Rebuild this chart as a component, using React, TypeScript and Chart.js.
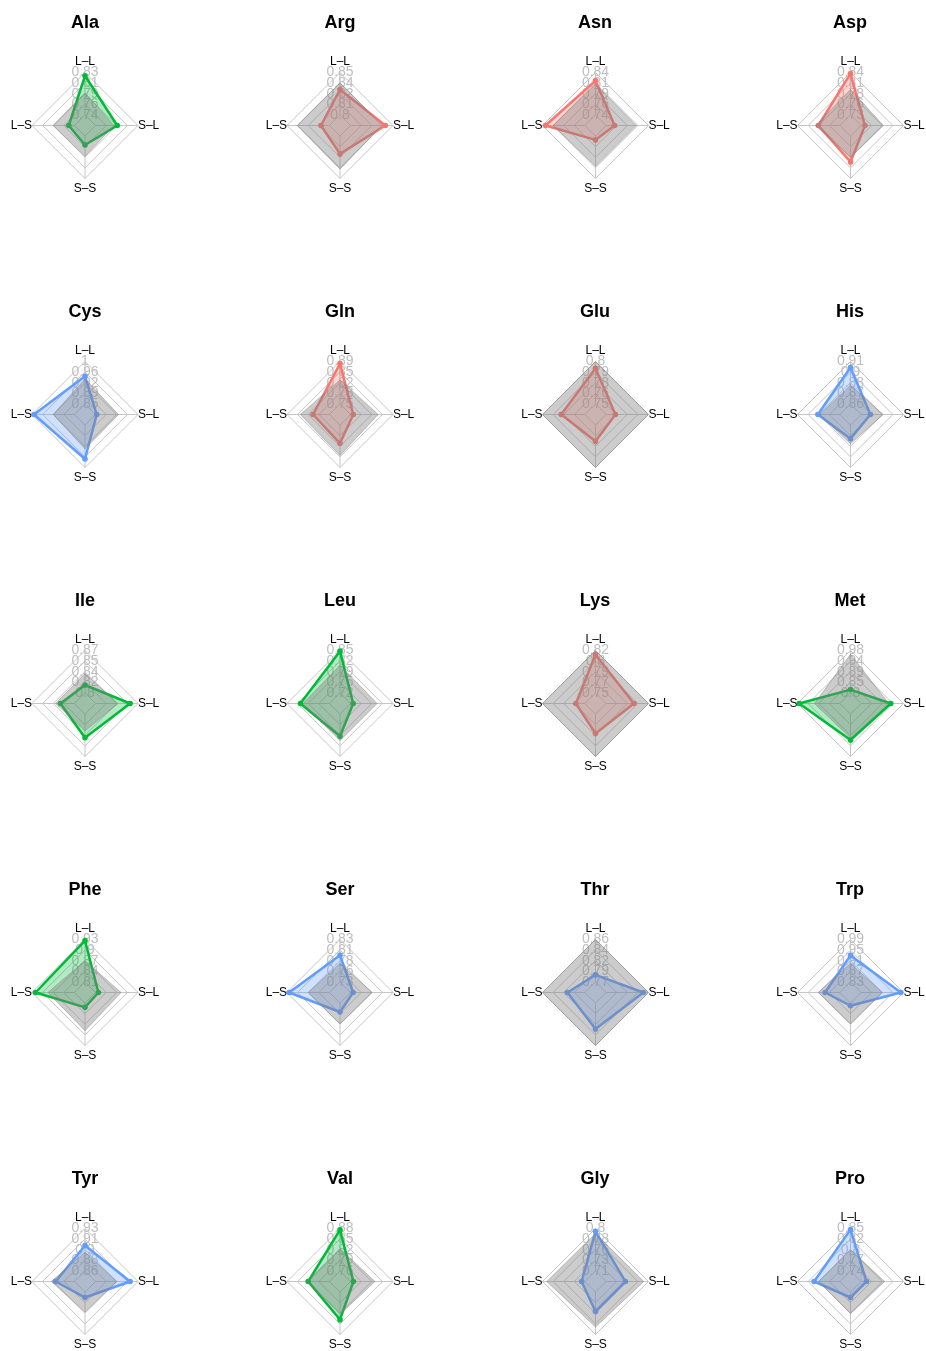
import React, { useEffect, useRef } from 'react';
import { Chart, registerables } from 'chart.js';

Chart.register(...registerables);

// ---------- data ----------
const AXIS_LABELS = ['L–L', 'S–L', 'S–S', 'L–S'];

const AMINO_ACIDS = [
  'Ala', 'Arg', 'Asn', 'Asp',
  'Cys', 'Gln', 'Glu', 'His',
  'Ile', 'Leu', 'Lys', 'Met',
  'Phe', 'Ser', 'Thr', 'Trp',
  'Tyr', 'Val', 'Gly', 'Pro',
];

const GROUPS = [
  'green', 'red', 'red', 'red',
  'blue', 'red', 'red', 'blue',
  'green', 'green', 'red', 'green',
  'green', 'blue', 'blue', 'blue',
  'blue', 'green', 'blue', 'blue',
];

// lowest / highest ring value of each panel
const RING_LOW = [
  0.74, 0.80, 0.74, 0.73,
  0.85, 0.75, 0.75, 0.86,
  0.80, 0.72, 0.75, 0.80,
  0.81, 0.73, 0.77, 0.83,
  0.86, 0.76, 0.71, 0.74,
];
const RING_HIGH = [
  0.83, 0.85, 0.84, 0.84,
  1.00, 0.89, 0.80, 0.91,
  0.87, 0.85, 0.82, 0.98,
  0.93, 0.83, 0.86, 0.99,
  0.93, 0.88, 0.80, 0.85,
];

const TICK_LABELS = [
  ['0.74', '0.76', '0.79', '0.81', '0.83'],
  ['0.8', '0.81', '0.82', '0.84', '0.85'],
  ['0.74', '0.76', '0.79', '0.81', '0.84'],
  ['0.73', '0.76', '0.78', '0.81', '0.84'],
  ['0.85', '0.89', '0.92', '0.96', '1'],
  ['0.75', '0.78', '0.82', '0.85', '0.89'],
  ['0.75', '0.76', '0.78', '0.79', '0.8'],
  ['0.86', '0.87', '0.88', '0.9', '0.91'],
  ['0.8', '0.82', '0.84', '0.85', '0.87'],
  ['0.72', '0.75', '0.79', '0.82', '0.85'],
  ['0.75', '0.77', '0.79', '0.8', '0.82'],
  ['0.8', '0.85', '0.89', '0.94', '0.98'],
  ['0.81', '0.84', '0.87', '0.9', '0.93'],
  ['0.73', '0.76', '0.78', '0.81', '0.83'],
  ['0.77', '0.79', '0.82', '0.84', '0.86'],
  ['0.83', '0.87', '0.91', '0.95', '0.99'],
  ['0.86', '0.88', '0.9', '0.91', '0.93'],
  ['0.76', '0.79', '0.82', '0.85', '0.88'],
  ['0.71', '0.73', '0.76', '0.78', '0.8'],
  ['0.74', '0.77', '0.8', '0.82', '0.85'],
];

// values per panel, order: L–L, S–L, S–S, L–S
const VALUES = [
  [0.823, 0.786, 0.759, 0.752],
  [0.830, 0.841, 0.821, 0.810],
  [0.821, 0.760, 0.749, 0.833],
  [0.837, 0.740, 0.797, 0.786],
  [0.948, 0.854, 0.970, 0.993],
  [0.883, 0.759, 0.810, 0.804],
  [0.792, 0.761, 0.769, 0.778],
  [0.903, 0.871, 0.876, 0.886],
  [0.813, 0.857, 0.839, 0.823],
  [0.848, 0.728, 0.788, 0.809],
  [0.813, 0.796, 0.782, 0.765],
  [0.814, 0.926, 0.910, 0.973],
  [0.927, 0.818, 0.822, 0.920],
  [0.793, 0.736, 0.751, 0.825],
  [0.785, 0.849, 0.825, 0.807],
  [0.930, 0.980, 0.840, 0.886],
  [0.902, 0.917, 0.869, 0.891],
  [0.876, 0.768, 0.838, 0.820],
  [0.794, 0.751, 0.751, 0.717],
  [0.847, 0.754, 0.754, 0.807],
];

// grey reference polygon per panel, order: L–L, S–L, S–S, L–S
const REFERENCE = [
  [0.787, 0.779, 0.783, 0.785],
  [0.838, 0.837, 0.839, 0.838],
  [0.8125, 0.811, 0.811, 0.815],
  [0.796, 0.788, 0.785, 0.793],
  [0.938, 0.931, 0.934, 0.925],
  [0.829, 0.841, 0.850, 0.846],
  [0.800, 0.800, 0.800, 0.800],
  [0.882, 0.886, 0.882, 0.884],
  [0.832, 0.837, 0.828, 0.831],
  [0.805, 0.801, 0.801, 0.801],
  [0.820, 0.820, 0.820, 0.820],
  [0.964, 0.917, 0.901, 0.908],
  [0.870, 0.882, 0.888, 0.885],
  [0.774, 0.781, 0.779, 0.780],
  [0.860, 0.860, 0.860, 0.860],
  [0.900, 0.910, 0.908, 0.912],
  [0.891, 0.895, 0.893, 0.898],
  [0.823, 0.829, 0.823, 0.823],
  [0.789, 0.790, 0.784, 0.791],
  [0.795, 0.801, 0.796, 0.795],
];

// ---------- style ----------
const FONT = '"Liberation Sans", Arial, Helvetica, sans-serif';
const LINE_COLORS: Record<string, string> = {
  green: 'rgb(0,186,56)',
  red: 'rgb(248,118,109)',
  blue: 'rgb(97,156,255)',
};
const FILL_COLORS: Record<string, string> = {
  green: 'rgba(0,186,56,0.3)',
  red: 'rgba(248,118,109,0.3)',
  blue: 'rgba(97,156,255,0.3)',
};
const GRID_COLOR = '#c6c6c6';
const COL_CENTERS = [85, 340, 595.5, 850.5];
const ROW_TOPS = [0, 289, 578, 867, 1156];
const PANEL_W = 180;
const PANEL_H = 289;
const CENTER_Y = 125.5;
const RADIUS = 53;

const radarFrame = {
  id: 'radarFrame',
  beforeDatasetsDraw(chart: any) {
    const s = chart.scales.r;
    const ctx = chart.ctx;
    const n = chart.data.labels.length;
    ctx.save();
    ctx.strokeStyle = GRID_COLOR;
    ctx.lineWidth = 1;
    const inner = s.ticks[1].value;
    for (let i = 0; i < n; i++) {
      const a = s.getPointPositionForValue(i, inner);
      const b = s.getPointPositionForValue(i, s.max);
      ctx.beginPath();
      ctx.moveTo(a.x, a.y);
      ctx.lineTo(b.x, b.y);
      ctx.stroke();
    }
    ctx.fillStyle = '#000';
    ctx.font = `12px ${FONT}`;
    ctx.textAlign = 'center';
    ctx.textBaseline = 'middle';
    for (let i = 0; i < n; i++) {
      const p = s.getPointPosition(i, s.drawingArea * 1.2);
      ctx.fillText(chart.data.labels[i], p.x, p.y);
    }
    ctx.restore();
  },
};

function RadarPanel({ index }: { index: number }) {
  const ref = useRef<HTMLCanvasElement>(null);
  const col = index % 4;
  const row = Math.floor(index / 4);
  const cx = COL_CENTERS[col];
  const left = Math.floor(cx) - PANEL_W / 2;
  const top = ROW_TOPS[row];

  useEffect(() => {
    const group = GROUPS[index];
    const lo = RING_LOW[index];
    const hi = RING_HIGH[index];
    const step = (hi - lo) / 4;
    const scaleMin = lo - step;
    const tickValues = [scaleMin, lo, lo + step, lo + 2 * step, lo + 3 * step, hi];
    const labels = TICK_LABELS[index];
    const localCx = cx - left;

    const chart = new Chart(ref.current as HTMLCanvasElement, {
      type: 'radar',
      data: {
        labels: AXIS_LABELS,
        datasets: [
          {
            label: 'reference',
            data: REFERENCE[index],
            backgroundColor: 'rgba(128,128,128,0.4)',
            borderColor: 'rgba(128,128,128,0.45)',
            borderWidth: 1,
            pointRadius: 0,
            fill: true,
            order: 0,
          },
          {
            label: AMINO_ACIDS[index],
            data: VALUES[index],
            backgroundColor: FILL_COLORS[group],
            borderColor: LINE_COLORS[group],
            borderWidth: 2.5,
            borderJoinStyle: 'round',
            pointRadius: 2.8,
            pointBorderWidth: 0,
            pointBackgroundColor: LINE_COLORS[group],
            fill: true,
            order: 1,
          },
        ],
      },
      options: {
        animation: false,
        responsive: false,
        maintainAspectRatio: false,
        events: [],
        layout: { padding: 0 },
        elements: { line: { tension: 0 } },
        plugins: {
          legend: { display: false },
          tooltip: { enabled: false },
          title: {
            display: true,
            text: AMINO_ACIDS[index],
            color: '#000',
            font: { family: FONT, size: 18, weight: 'bold' },
            padding: { top: 12, bottom: 0 },
          },
        },
        scales: {
          r: {
            min: scaleMin,
            max: hi,
            beginAtZero: false,
            angleLines: { display: false },
            grid: { color: GRID_COLOR, lineWidth: 1, circular: false },
            pointLabels: { display: false },
            ticks: {
              display: true,
              autoSkip: false,
              showLabelBackdrop: false,
              color: '#bebebe',
              font: { family: FONT, size: 14 },
              callback: (_v: any, i: number) => (i === 0 ? '' : labels[i - 1]),
            },
            afterBuildTicks: (scale: any) => {
              scale.ticks = tickValues.map((v) => ({ value: v }));
            },
            afterFit: (scale: any) => {
              scale.drawingArea = RADIUS;
              scale.xCenter = localCx;
              scale.yCenter = CENTER_Y;
            },
          },
        },
      } as any,
      plugins: [radarFrame],
    });
    return () => chart.destroy();
  }, [index]);

  return (
    <canvas
      ref={ref}
      width={PANEL_W}
      height={PANEL_H}
      style={{ position: 'absolute', left, top, width: PANEL_W, height: PANEL_H }}
    />
  );
}

export default function App() {
  return (
    <div
      style={{
        position: 'absolute',
        left: 0,
        top: 0,
        width: 926,
        height: 1351,
        overflow: 'hidden',
        background: '#ffffff',
      }}
    >
      {AMINO_ACIDS.map((name, i) => (
        <RadarPanel key={name} index={i} />
      ))}
    </div>
  );
}
